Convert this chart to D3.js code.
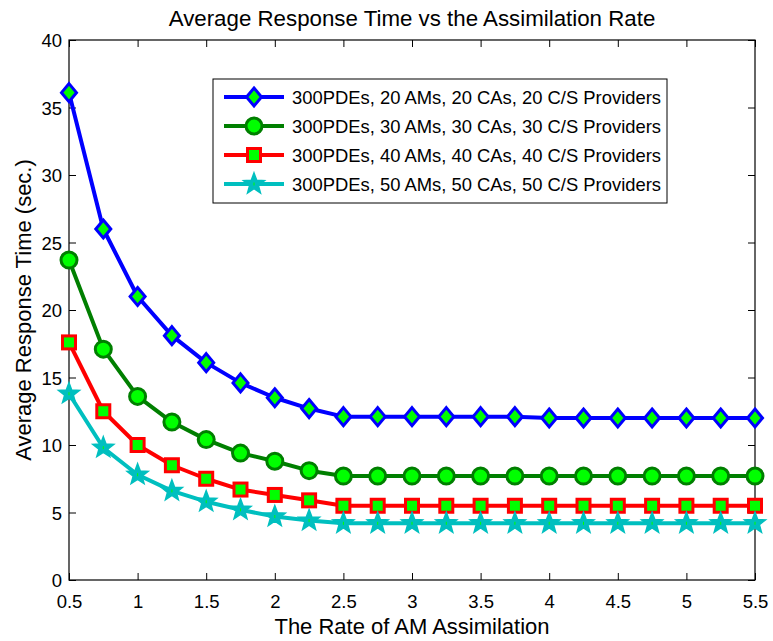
<!DOCTYPE html>
<html>
<head>
<meta charset="utf-8">
<script src="https://cdn.jsdelivr.net/npm/d3@7"></script>
<style>
  html, body { margin: 0; padding: 0; background: #fff; }
  svg { display: block; font-family: "Liberation Sans", Arial, Helvetica, sans-serif; }
</style>
</head>
<body>
<svg id="chart" width="773" height="641"></svg>
<script>
// Assimilation rate values on the x axis
const rates = [0.5, 0.75, 1.0, 1.25, 1.5, 1.75, 2.0, 2.25, 2.5, 2.75, 3.0,
               3.25, 3.5, 3.75, 4.0, 4.25, 4.5, 4.75, 5.0, 5.25, 5.5];

// Average response time (sec.) for each configuration
const am20 = [36.1, 26.0, 21.0, 18.1, 16.1, 14.6, 13.5, 12.7, 12.1, 12.1, 12.1,
              12.1, 12.1, 12.1, 12.0, 12.0, 12.0, 12.0, 12.0, 12.0, 12.0];
const am30 = [23.7, 17.1, 13.6, 11.7, 10.4, 9.4, 8.8, 8.1, 7.7, 7.7, 7.7,
              7.7, 7.7, 7.7, 7.7, 7.7, 7.7, 7.7, 7.7, 7.7, 7.7];
const am40 = [17.6, 12.5, 10.0, 8.5, 7.5, 6.7, 6.3, 5.9, 5.5, 5.5, 5.5,
              5.5, 5.5, 5.5, 5.5, 5.5, 5.5, 5.5, 5.5, 5.5, 5.5];
const am50 = [13.8, 9.8, 7.8, 6.6, 5.8, 5.2, 4.7, 4.4, 4.2, 4.2, 4.2,
              4.2, 4.2, 4.2, 4.2, 4.2, 4.2, 4.2, 4.2, 4.2, 4.2];

const seriesNames = [
  "300PDEs, 20 AMs, 20 CAs, 20 C/S Providers",
  "300PDEs, 30 AMs, 30 CAs, 30 C/S Providers",
  "300PDEs, 40 AMs, 40 CAs, 40 C/S Providers",
  "300PDEs, 50 AMs, 50 CAs, 50 C/S Providers"
];

const xTicks = [0.5, 1, 1.5, 2, 2.5, 3, 3.5, 4, 4.5, 5, 5.5];
const yTicks = [0, 5, 10, 15, 20, 25, 30, 35, 40];

const titleText = "Average Response Time vs the Assimilation Rate";
const xLabelText = "The Rate of AM Assimilation";
const yLabelText = "Average Response Time (sec.)";

const series = [
  { name: seriesNames[0], values: am20, color: "#0000ff", marker: "diamond" },
  { name: seriesNames[1], values: am30, color: "#007f00", marker: "circle" },
  { name: seriesNames[2], values: am40, color: "#ff0000", marker: "square" },
  { name: seriesNames[3], values: am50, color: "#00bfbf", marker: "star" }
];

const svg = d3.select("#chart");
const plot = { left: 69, right: 755, top: 40, bottom: 580 };

const x = d3.scaleLinear().domain([0.5, 5.5]).range([plot.left, plot.right]);
const y = d3.scaleLinear().domain([0, 40]).range([plot.bottom, plot.top]);

const faceColor = "#00ff00";
const tickLen = 7;

// Axes box and inward ticks on all four sides
const axes = svg.append("g");
axes.append("rect")
  .attr("x", plot.left).attr("y", plot.top)
  .attr("width", plot.right - plot.left).attr("height", plot.bottom - plot.top)
  .attr("fill", "#fff");

const bottomAxis = d3.axisBottom(x).tickValues(xTicks).tickSizeInner(-tickLen).tickSizeOuter(0)
  .tickFormat(d3.format("~g"));
const topAxis = d3.axisTop(x).tickValues(xTicks).tickSizeInner(-tickLen).tickSizeOuter(0).tickFormat("");
const leftAxis = d3.axisLeft(y).tickValues(yTicks).tickSizeInner(-tickLen).tickSizeOuter(0)
  .tickFormat(d3.format("~g"));
const rightAxis = d3.axisRight(y).tickValues(yTicks).tickSizeInner(-tickLen).tickSizeOuter(0).tickFormat("");

function styleAxis(g) {
  g.select(".domain").remove();
  g.selectAll(".tick line").attr("stroke", "#000").attr("stroke-width", 1);
  g.selectAll(".tick text").attr("fill", "#000").style("font-size", "18.5px")
    .style("font-family", "'Liberation Sans', Arial, Helvetica, sans-serif");
}

// x tick labels: baseline about 28px below the axis
axes.append("g").attr("transform", `translate(0,${plot.bottom})`).call(bottomAxis).call(styleAxis)
  .selectAll(".tick text").attr("dy", null).attr("y", 28);
axes.append("g").attr("transform", `translate(0,${plot.top})`).call(topAxis).call(styleAxis);
axes.append("g").attr("transform", `translate(${plot.left},0)`).call(leftAxis).call(styleAxis)
  .selectAll(".tick text").attr("x", -7).attr("dy", "0.36em");
axes.append("g").attr("transform", `translate(${plot.right},0)`).call(rightAxis).call(styleAxis);

// Marker shapes
function drawMarker(g, type, color) {
  if (type === "diamond") {
    g.append("path").attr("d", "M0,-9L7.5,0L0,9L-7.5,0Z")
      .attr("fill", faceColor).attr("stroke", color).attr("stroke-width", 3)
      .attr("stroke-linejoin", "miter");
  } else if (type === "circle") {
    g.append("circle").attr("r", 8)
      .attr("fill", faceColor).attr("stroke", color).attr("stroke-width", 3);
  } else if (type === "square") {
    g.append("rect").attr("x", -6.5).attr("y", -6.5).attr("width", 13).attr("height", 13)
      .attr("fill", faceColor).attr("stroke", color).attr("stroke-width", 3);
  } else if (type === "star") {
    const pts = [];
    for (let i = 0; i < 10; i++) {
      const r = i % 2 === 0 ? 11 : 4.6;
      const a = -Math.PI / 2 + i * Math.PI / 5;
      pts.push([r * Math.cos(a), r * Math.sin(a)]);
    }
    g.append("path").attr("d", "M" + pts.map(p => p.join(",")).join("L") + "Z")
      .attr("fill", color).attr("stroke", color).attr("stroke-width", 1.5)
      .attr("stroke-linejoin", "miter");
    g.append("rect").attr("x", -0.5).attr("y", -1.5).attr("width", 1).attr("height", 3)
      .attr("fill", faceColor);
  }
}

const line = d3.line().x(d => x(d[0])).y(d => y(d[1]));

const plotArea = svg.append("g");
series.forEach(s => {
  const pts = rates.map((r, i) => [r, s.values[i]]);
  const g = plotArea.append("g");
  g.append("path").datum(pts).attr("d", line)
    .attr("fill", "none").attr("stroke", s.color).attr("stroke-width", 4)
    .attr("stroke-linejoin", "round");
  pts.forEach(p => {
    const m = g.append("g").attr("transform", `translate(${x(p[0])},${y(p[1])})`);
    drawMarker(m, s.marker, s.color);
  });
});

// Axis frame drawn on top
axes.append("rect")
  .attr("x", plot.left).attr("y", plot.top)
  .attr("width", plot.right - plot.left).attr("height", plot.bottom - plot.top)
  .attr("fill", "none").attr("stroke", "#000").attr("stroke-width", 1.2);

// Legend
const legend = svg.append("g");
legend.append("rect")
  .attr("x", 213).attr("y", 79).attr("width", 454).attr("height", 124)
  .attr("fill", "#fff").attr("stroke", "#000").attr("stroke-width", 1);
const rowY = [97, 126, 155, 184];
series.forEach((s, i) => {
  const ly = rowY[i];
  legend.append("line").attr("x1", 224).attr("x2", 284).attr("y1", ly).attr("y2", ly)
    .attr("stroke", s.color).attr("stroke-width", 4);
  const m = legend.append("g").attr("transform", `translate(254,${ly})`);
  drawMarker(m, s.marker, s.color);
  legend.append("text").attr("x", 292).attr("y", ly).attr("dy", "0.36em")
    .style("font-size", "18.4px").attr("fill", "#000").text(s.name);
});

// Title and axis labels
svg.append("text").attr("x", (plot.left + plot.right) / 2).attr("y", 26)
  .attr("text-anchor", "middle").style("font-size", "22.3px").attr("fill", "#000")
  .text(titleText);
svg.append("text").attr("x", (plot.left + plot.right) / 2).attr("y", 634)
  .attr("text-anchor", "middle").style("font-size", "22px").attr("fill", "#000")
  .text(xLabelText);
svg.append("text")
  .attr("transform", `translate(31,${(plot.top + plot.bottom) / 2}) rotate(-90)`)
  .attr("text-anchor", "middle").style("font-size", "22px").attr("fill", "#000")
  .text(yLabelText);
</script>
</body>
</html>
